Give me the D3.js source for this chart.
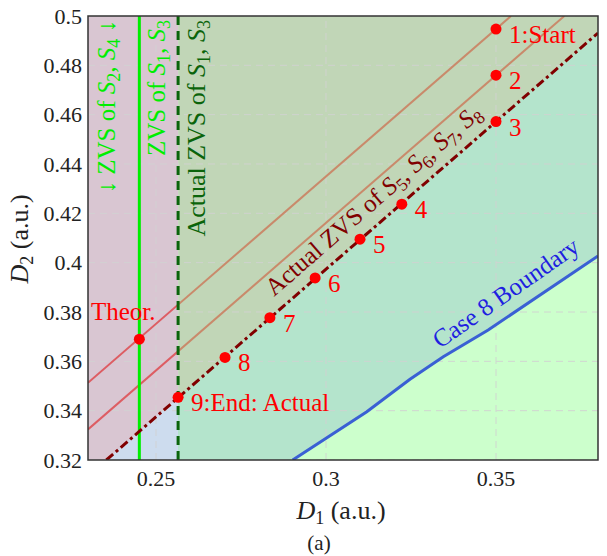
<!DOCTYPE html>
<html>
<head>
<meta charset="utf-8">
<script src="https://cdn.jsdelivr.net/npm/d3@7"></script>
<style>
  html, body { margin: 0; padding: 0; background: #fff; }
  svg { display: block; }
</style>
</head>
<body>
<div id="chart"></div>
<script>
// ---------- data ----------
const xTicks = [0.25, 0.3, 0.35];
const xTickLabels = ["0.25", "0.3", "0.35"];
const yTicks = [0.32, 0.34, 0.36, 0.38, 0.4, 0.42, 0.44, 0.46, 0.48, 0.5];
const yTickLabels = ["0.32", "0.34", "0.36", "0.38", "0.4", "0.42", "0.44", "0.46", "0.48", "0.5"];

const theorZvsD1 = 0.2451;      // ZVS of S1,S3 (theoretical)
const actualZvsD1 = 0.2565;     // Actual ZVS of S1,S3

const actualLine = [[0.2354, 0.32], [0.38, 0.4931]];     // Actual ZVS of S5..S8
const trajLine1 = [[0.23, 0.3513], [0.3544, 0.5]];       // through 1:Start & Theor.
const trajLine2 = [[0.23, 0.3324], [0.3701, 0.5]];       // through 2
const case8Line = [[0.2902, 0.32], [0.312, 0.3396], [0.3247, 0.3527], [0.3345, 0.3619], [0.3477, 0.3727], [0.38, 0.4027]];

const pointLabels = ["1:Start", "2", "3", "4", "5", "6", "7", "8", "9:End: Actual"];
const pointD1 = [0.35, 0.35, 0.35, 0.3223, 0.31, 0.2968, 0.2835, 0.2703, 0.2565];
const pointD2 = [0.4947, 0.476, 0.4572, 0.4237, 0.4095, 0.3938, 0.3777, 0.3616, 0.3454];
const theorPoint = [0.2451, 0.369];

// ---------- layout ----------
const W = 607, H = 556;
const svg = d3.select("#chart").append("svg").attr("width", W).attr("height", H);

const x = d3.scaleLinear().domain([0.23, 0.38]).range([88, 598]);
const y = d3.scaleLinear().domain([0.32, 0.5]).range([460, 16]);

const defs = svg.append("defs");
defs.append("clipPath").attr("id", "clipAll").append("rect")
  .attr("x", x(0.23)).attr("y", y(0.5)).attr("width", x(0.38) - x(0.23)).attr("height", y(0.32) - y(0.5));
defs.append("clipPath").attr("id", "clipLeft").append("rect")
  .attr("x", x(0.23)).attr("y", y(0.5)).attr("width", x(actualZvsD1) - x(0.23)).attr("height", y(0.32) - y(0.5));
defs.append("clipPath").attr("id", "clipRight").append("rect")
  .attr("x", x(actualZvsD1)).attr("y", y(0.5)).attr("width", x(0.38) - x(actualZvsD1)).attr("height", y(0.32) - y(0.5));

const plot = svg.append("g").attr("clip-path", "url(#clipAll)");

// background regions
plot.append("rect").attr("x", x(0.23)).attr("y", y(0.5))
  .attr("width", x(actualZvsD1) - x(0.23)).attr("height", y(0.32) - y(0.5)).attr("fill", "#d9c6d2");
plot.append("rect").attr("x", x(actualZvsD1)).attr("y", y(0.5))
  .attr("width", x(0.38) - x(actualZvsD1)).attr("height", y(0.32) - y(0.5)).attr("fill", "#c1d6b7");

const areaUnder = d3.area().x(d => x(d[0])).y0(y(0.32)).y1(d => y(d[1]));
plot.append("path").datum(actualLine).attr("d", areaUnder).attr("fill", "#cddcee").attr("clip-path", "url(#clipLeft)");
plot.append("path").datum(actualLine).attr("d", areaUnder).attr("fill", "#b4e4cc").attr("clip-path", "url(#clipRight)");
plot.append("path").datum(case8Line.concat([[0.38, 0.32]])).attr("d", d3.line().x(d => x(d[0])).y(d => y(d[1])))
  .attr("fill", "#ccffcc");

// grid
const grid = plot.append("g").attr("stroke", "#d2d2d2").attr("stroke-width", 1).attr("stroke-dasharray", "7,5").attr("opacity", 0.9);
xTicks.forEach(t => grid.append("line").attr("x1", x(t)).attr("x2", x(t)).attr("y1", y(0.32)).attr("y2", y(0.5)));
yTicks.forEach(t => grid.append("line").attr("x1", x(0.23)).attr("x2", x(0.38)).attr("y1", y(t)).attr("y2", y(t)));

const line = d3.line().x(d => x(d[0])).y(d => y(d[1]));

// trajectory lines (colour differs by region)
[trajLine1, trajLine2].forEach(L => {
  plot.append("path").datum(L).attr("d", line).attr("fill", "none").attr("stroke", "#dd5d63").attr("stroke-width", 2).attr("clip-path", "url(#clipLeft)");
  plot.append("path").datum(L).attr("d", line).attr("fill", "none").attr("stroke", "#c98a6b").attr("stroke-width", 2).attr("clip-path", "url(#clipRight)");
});

// case 8 boundary
plot.append("path").datum(case8Line).attr("d", line).attr("fill", "none").attr("stroke", "#3a60d4").attr("stroke-width", 3);

// vertical ZVS lines
plot.append("line").attr("x1", x(theorZvsD1)).attr("x2", x(theorZvsD1)).attr("y1", y(0.32)).attr("y2", y(0.5))
  .attr("stroke", "#00ee00").attr("stroke-width", 3);
plot.append("line").attr("x1", x(actualZvsD1)).attr("x2", x(actualZvsD1)).attr("y1", y(0.32)).attr("y2", y(0.5))
  .attr("stroke", "#0a640a").attr("stroke-width", 3).attr("stroke-dasharray", "9,6");

// actual ZVS line S5..S8 (dash-dot)
plot.append("path").datum(actualLine).attr("d", line).attr("fill", "none").attr("stroke", "#800000")
  .attr("stroke-width", 3).attr("stroke-dasharray", "9,3.5,3,3.5");

// points
const pts = pointD1.map((d, i) => [d, pointD2[i]]);
plot.selectAll("circle.pt").data(pts.concat([theorPoint])).enter().append("circle")
  .attr("cx", d => x(d[0])).attr("cy", d => y(d[1])).attr("r", 5.5).attr("fill", "#ff0000");

// frame
svg.append("rect").attr("x", x(0.23)).attr("y", y(0.5)).attr("width", x(0.38) - x(0.23)).attr("height", y(0.32) - y(0.5))
  .attr("fill", "none").attr("stroke", "#333").attr("stroke-width", 1.5);

// tick labels
const fsTick = 22;
svg.append("g").selectAll("text").data(xTicks).enter().append("text")
  .attr("x", d => x(d)).attr("y", 486).attr("text-anchor", "middle").attr("font-size", fsTick).attr("fill", "#222")
  .text((d, i) => xTickLabels[i]);
svg.append("g").selectAll("text").data(yTicks).enter().append("text")
  .attr("x", 82).attr("y", d => y(d) + 7.5).attr("text-anchor", "end").attr("font-size", fsTick).attr("fill", "#222")
  .text((d, i) => yTickLabels[i]);

// helper for text with subscripts (parts: strings or {s, sub})
function richText(sel, parts, subSize) {
  let pendingUp = false;
  parts.forEach(p => {
    if (typeof p === "string") {
      const ts = sel.append("tspan").text(p);
      if (pendingUp) { ts.attr("dy", -5); pendingUp = false; }
    } else {
      const ts = sel.append("tspan").attr("font-style", "italic").text(p.s);
      if (pendingUp) { ts.attr("dy", -5); pendingUp = false; }
      sel.append("tspan").attr("font-size", subSize).attr("dy", 5).text(p.sub);
      pendingUp = true;
    }
  });
}

// axis titles
const xt = svg.append("text").attr("x", 341).attr("y", 519).attr("text-anchor", "middle").attr("font-size", 26).attr("fill", "#222");
richText(xt, [{s: "D", sub: "1"}, " (a.u.)"], 18);

const yt = svg.append("text").attr("transform", "translate(28,239) rotate(-90)").attr("text-anchor", "middle").attr("font-size", 26).attr("fill", "#222");
richText(yt, [{s: "D", sub: "2"}, " (a.u.)"], 18);

svg.append("text").attr("x", 319).attr("y", 550).attr("text-anchor", "middle").attr("font-size", 21).attr("fill", "#222").text("(a)");

// vertical labels
const fsAnn = 25;
let t1 = svg.append("text").attr("transform", `translate(${115},${20}) rotate(-90)`).attr("text-anchor", "end")
  .attr("font-size", fsAnn).attr("fill", "#00ee00");
richText(t1, ["\u2193 ZVS of ", {s: "S", sub: "2"}, ", ", {s: "S", sub: "4"}, " \u2193"], 18);

let t2 = svg.append("text").attr("transform", `translate(${165},${20}) rotate(-90)`).attr("text-anchor", "end")
  .attr("font-size", fsAnn).attr("fill", "#00ee00");
richText(t2, ["ZVS of ", {s: "S", sub: "1"}, ", ", {s: "S", sub: "3"}], 18);

let t3 = svg.append("text").attr("transform", `translate(${205},${20}) rotate(-90)`).attr("text-anchor", "end")
  .attr("font-size", 26).attr("fill", "#0a640a");
richText(t3, ["Actual ZVS of ", {s: "S", sub: "1"}, ", ", {s: "S", sub: "3"}], 18);

// slanted labels
const angA = Math.atan2(y(actualLine[0][1]) - y(actualLine[1][1]), x(actualLine[1][0]) - x(actualLine[0][0])) * 180 / Math.PI;
let t4 = svg.append("text").attr("transform", `translate(${274},${297}) rotate(${-angA})`).attr("text-anchor", "start")
  .attr("font-size", fsAnn).attr("fill", "#800000");
richText(t4, ["Actual ZVS of ", {s: "S", sub: "5"}, ", ", {s: "S", sub: "6"}, ", ", {s: "S", sub: "7"}, ", ", {s: "S", sub: "8"}], 18);

svg.append("text").attr("transform", `translate(${440},${349}) rotate(-35)`).attr("text-anchor", "start")
  .attr("font-size", 25).attr("fill", "#1f1fe0").text("Case 8 Boundary");

// point labels
svg.append("g").selectAll("text").data(pts).enter().append("text")
  .attr("x", d => x(d[0]) + 13).attr("y", d => y(d[1]) + 14)
  .attr("font-size", fsAnn).attr("fill", "#ff0000")
  .text((d, i) => pointLabels[i]);
svg.append("text").attr("x", 91).attr("y", 320).attr("font-size", fsAnn).attr("fill", "#ff0000").text("Theor.");

// serif font on every text
svg.selectAll("text").style("font-family", "'Liberation Serif'");
</script>
</body>
</html>
